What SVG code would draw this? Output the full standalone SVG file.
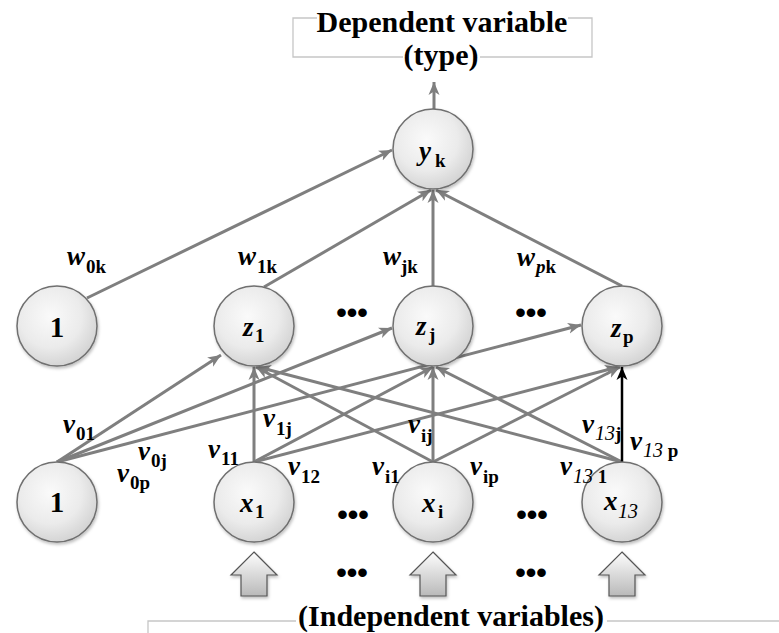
<svg xmlns="http://www.w3.org/2000/svg" width="779" height="633" viewBox="0 0 779 633">
<defs>
<radialGradient id="nodeFill" cx="0.42" cy="0.38" r="0.65">
<stop offset="0" stop-color="#fafafa"/>
<stop offset="0.6" stop-color="#ebebeb"/>
<stop offset="1" stop-color="#d2d2d2"/>
</radialGradient>
<linearGradient id="arrowFill" x1="0" y1="0" x2="0" y2="1">
<stop offset="0" stop-color="#fdfdfd"/>
<stop offset="1" stop-color="#b9b9b9"/>
</linearGradient>
<filter id="shadow" x="-20%" y="-20%" width="140%" height="140%">
<feDropShadow dx="1" dy="2" stdDeviation="1.5" flood-color="#000" flood-opacity="0.25"/>
</filter>
<marker id="ah" markerUnits="userSpaceOnUse" markerWidth="14" markerHeight="12" refX="13" refY="6" orient="auto">
<path d="M0,0.5 L13,6 L0,11.5 L3.5,6 Z" fill="#7f7f7f"/>
</marker>
<marker id="ahk" markerUnits="userSpaceOnUse" markerWidth="14" markerHeight="12" refX="13" refY="6" orient="auto">
<path d="M0,0.5 L13,6 L0,11.5 L3.5,6 Z" fill="#000"/>
</marker>
</defs>
<style>
.node circle{fill:url(#nodeFill);stroke:#6f6f6f;stroke-width:1.5;filter:url(#shadow)}
.e{stroke:#7f7f7f;stroke-width:3;fill:none;marker-end:url(#ah)}
.ek{stroke:#000;stroke-width:2.5;fill:none;marker-end:url(#ahk)}
.box{stroke:#c6c6c6;stroke-width:1.3;fill:none}
.t{font-family:"Liberation Serif","Times New Roman",serif;font-weight:bold;fill:#000}
.v{font-style:italic;font-size:27px}
.s{font-style:normal;font-size:19px}
.si{font-style:italic;font-weight:normal;font-size:20px}
.n{font-size:29px}
.title{font-size:30px;text-anchor:middle}
.dots{font-family:"Liberation Sans",Arial,sans-serif;font-size:30px;font-weight:bold;text-anchor:middle;fill:#000}
.blk{fill:url(#arrowFill);stroke:#555;stroke-width:1.2;filter:url(#shadow)}
</style>

<g id="title-box">
<path class="box" d="M317,18 H293 V57 H403 M480,57 H592 V18 H568"/>
<text class="t title" x="442" y="32">Dependent variable</text>
<text class="t title" x="441" y="65">(type)</text>
</g>

<g id="bottom-box">
<path class="box" d="M148,633 V621 H296 M607,621 H779"/>
<text class="t title" x="451" y="626">(Independent variables)</text>
</g>

<g id="connectors">
<line class="e" x1="434" y1="109" x2="434" y2="82"/>
<line class="e" x1="87" y1="298" x2="392" y2="150"/>
<line class="e" x1="264" y1="287" x2="431" y2="190"/>
<line class="e" x1="433" y1="286" x2="433" y2="190"/>
<line class="e" x1="622" y1="286" x2="436" y2="190"/>
<line class="e" x1="57" y1="462" x2="221" y2="355"/>
<line class="e" x1="57" y1="462" x2="392" y2="328"/>
<line class="e" x1="57" y1="462" x2="581" y2="325"/>
<line class="e" x1="254" y1="462" x2="254" y2="367"/>
<line class="e" x1="254" y1="462" x2="433" y2="367"/>
<line class="e" x1="254" y1="462" x2="618" y2="367"/>
<line class="e" x1="433" y1="462" x2="256" y2="367"/>
<line class="e" x1="433" y1="462" x2="433" y2="367"/>
<line class="e" x1="433" y1="462" x2="620" y2="367"/>
<line class="e" x1="622" y1="462" x2="258" y2="367"/>
<line class="e" x1="622" y1="462" x2="436" y2="367"/>
<line class="ek" x1="622" y1="462" x2="622" y2="367"/>
</g>

<g id="node-yk" class="node">
<circle cx="433" cy="149" r="40"/>
<text class="t v" x="419" y="160">y</text><text class="t s" x="435" y="167">k</text>
</g>
<g id="node-bias-hidden" class="node">
<circle cx="57" cy="326" r="40"/>
<text class="t n" x="57" y="337" text-anchor="middle">1</text>
</g>
<g id="node-z1" class="node">
<circle cx="254" cy="326" r="40"/>
<text class="t v" x="243" y="336">z</text><text class="t s" x="255" y="342">1</text>
</g>
<g id="node-zj" class="node">
<circle cx="433" cy="326" r="40"/>
<text class="t v" x="416" y="335">z</text><text class="t s" x="429" y="341">j</text>
</g>
<g id="node-zp" class="node">
<circle cx="622" cy="326" r="40"/>
<text class="t v" x="611" y="337">z</text><text class="t s" x="623" y="343">p</text>
</g>
<g id="node-bias-input" class="node">
<circle cx="57" cy="502" r="40"/>
<text class="t n" x="57" y="512" text-anchor="middle">1</text>
</g>
<g id="node-x1" class="node">
<circle cx="254" cy="502" r="40"/>
<text class="t v" x="240" y="512">x</text><text class="t s" x="255" y="518">1</text>
</g>
<g id="node-xi" class="node">
<circle cx="433" cy="502" r="40"/>
<text class="t v" x="422" y="512">x</text><text class="t s" x="438" y="518">i</text>
</g>
<g id="node-x13" class="node">
<circle cx="622" cy="502" r="40"/>
<text class="t v" x="604" y="510">x</text><text class="t si" x="618" y="518">13</text>
</g>

<g id="weights">
<text class="t v" x="67" y="265">w</text><text class="t s" x="86" y="273">0k</text>
<text class="t v" x="238" y="265">w</text><text class="t s" x="257" y="273">1k</text>
<text class="t v" x="383" y="265">w</text><text class="t s" x="401" y="273">jk</text>
<text class="t v" x="517" y="266">w</text><text class="t s" x="536" y="273"><tspan font-style="italic">p</tspan>k</text>
<text class="t v" x="63" y="433">v</text><text class="t s" x="76" y="440">01</text>
<text class="t v" x="138" y="460">v</text><text class="t s" x="151" y="467">0j</text>
<text class="t v" x="117" y="482">v</text><text class="t s" x="130" y="489">0p</text>
<text class="t v" x="208" y="458">v</text><text class="t s" x="221" y="465">11</text>
<text class="t v" x="263" y="427">v</text><text class="t s" x="276" y="435">1j</text>
<text class="t v" x="288" y="475">v</text><text class="t s" x="301" y="483">12</text>
<text class="t v" x="372" y="475">v</text><text class="t s" x="385" y="483">i1</text>
<text class="t v" x="408" y="433">v</text><text class="t s" x="421" y="442">ij</text>
<text class="t v" x="470" y="475">v</text><text class="t s" x="483" y="483">ip</text>
<text class="t v" x="582" y="433">v</text><text class="t s" x="595" y="440"><tspan class="si">13</tspan>j</text>
<text class="t v" x="630" y="450">v</text><text class="t s" x="643" y="457"><tspan class="si">13</tspan> p</text>
<text class="t v" x="560" y="475">v</text><text class="t s" x="573" y="483"><tspan class="si">13</tspan> 1</text>
</g>

<g id="ellipses">
<text class="dots" x="352" y="323">•••</text>
<text class="dots" x="531" y="323">•••</text>
<text class="dots" x="353" y="525">•••</text>
<text class="dots" x="532" y="525">•••</text>
<text class="dots" x="352" y="583">•••</text>
<text class="dots" x="531" y="583">•••</text>
</g>

<g id="input-arrows">
<path class="blk" d="M254,552 L277,575 L267,575 L267,596 L241,596 L241,575 L231,575 Z"/>
<path class="blk" d="M433,552 L456,575 L446,575 L446,596 L420,596 L420,575 L410,575 Z"/>
<path class="blk" d="M622,552 L645,575 L635,575 L635,596 L609,596 L609,575 L599,575 Z"/>
</g>
</svg>
